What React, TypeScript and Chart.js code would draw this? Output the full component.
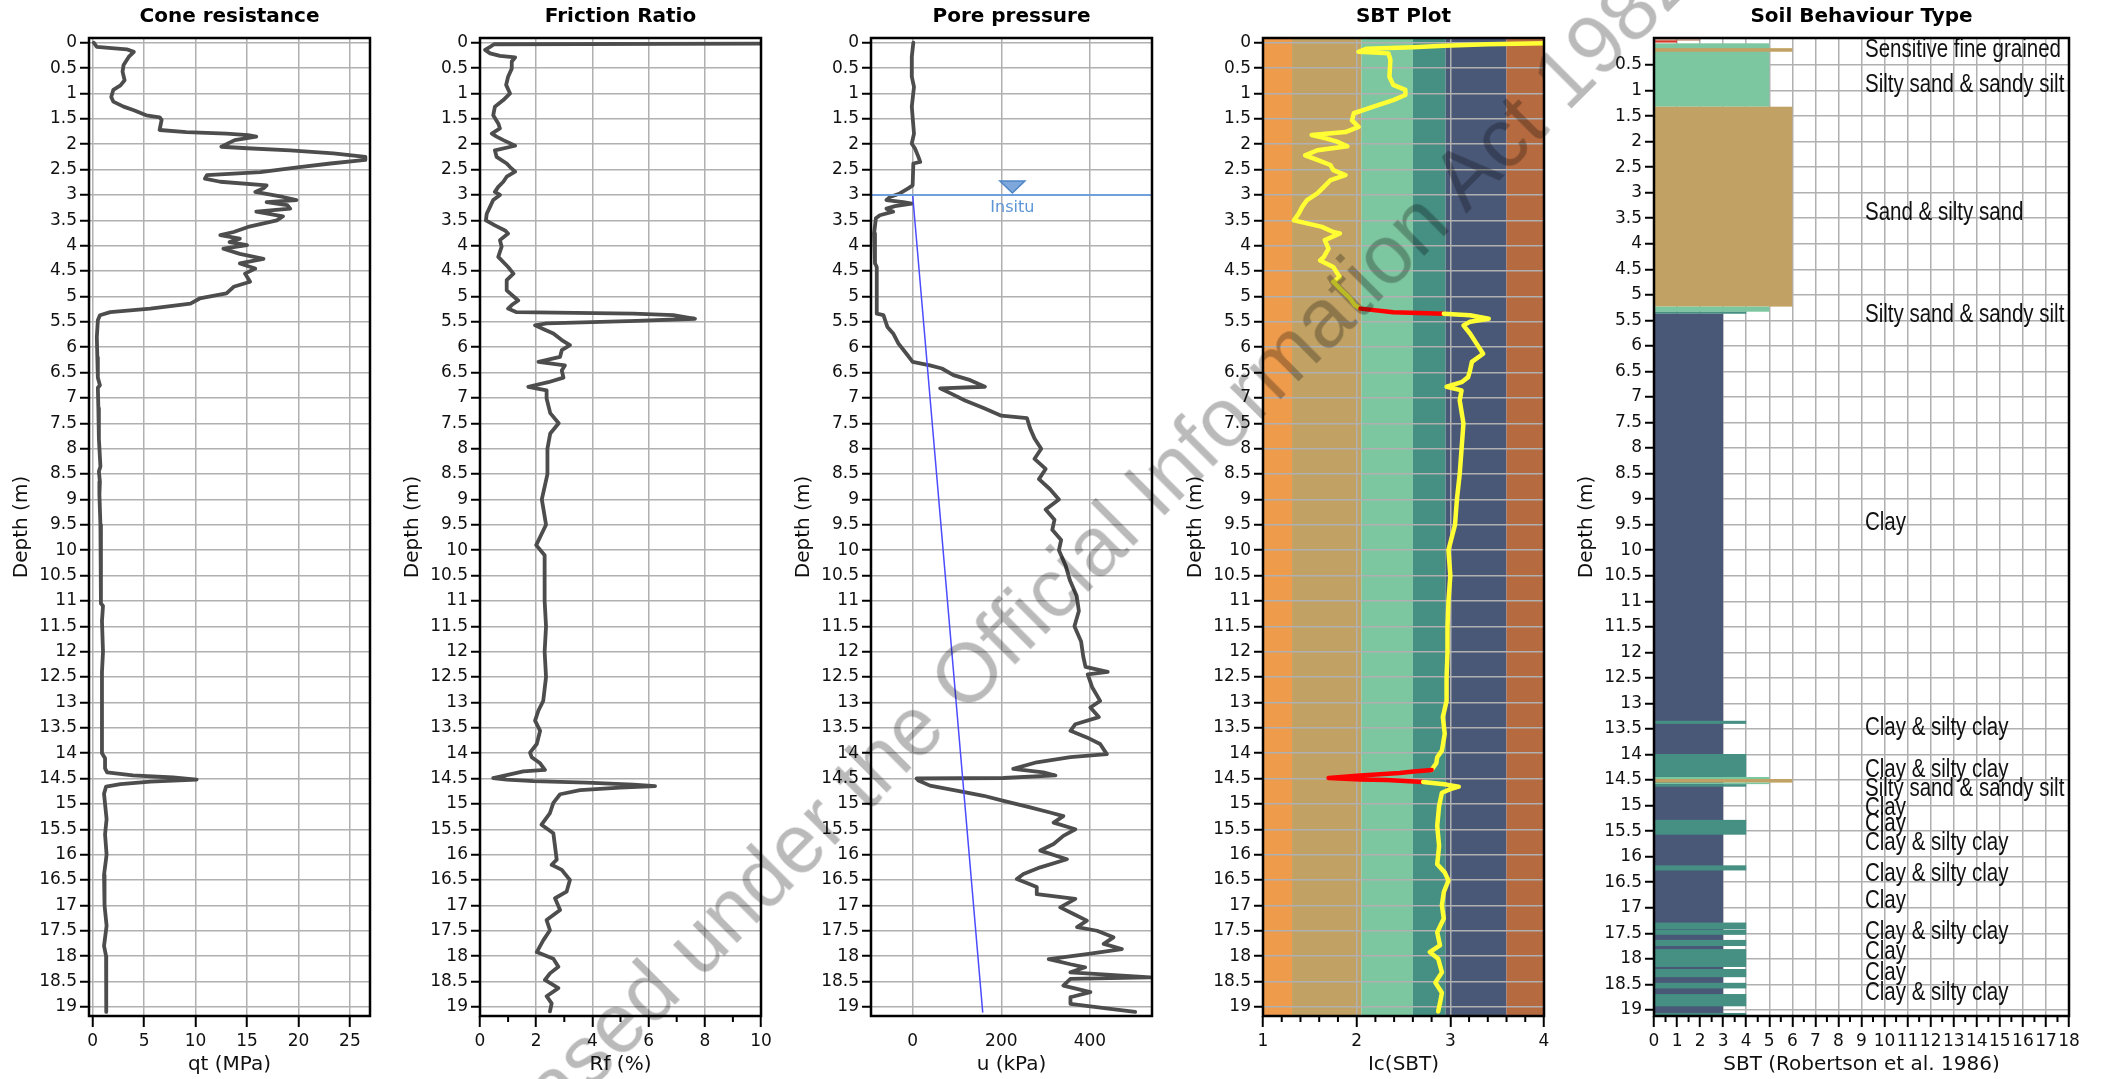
import React, { useEffect, useRef } from 'react';
import { Chart, registerables } from 'chart.js';

Chart.register(...registerables);

const FONT = '"DejaVu Sans", Verdana, sans-serif';
const GRID = '#b0b0b0';
const LINE = '#4d4d4d';

// ---------- tick labels ----------
const depthTicks = [0, 0.5, 1, 1.5, 2, 2.5, 3, 3.5, 4, 4.5, 5, 5.5, 6, 6.5, 7, 7.5, 8, 8.5, 9, 9.5, 10, 10.5, 11, 11.5, 12, 12.5, 13, 13.5, 14, 14.5, 15, 15.5, 16, 16.5, 17, 17.5, 18, 18.5, 19];
const depthTicksSbt = [0.5, 1, 1.5, 2, 2.5, 3, 3.5, 4, 4.5, 5, 5.5, 6, 6.5, 7, 7.5, 8, 8.5, 9, 9.5, 10, 10.5, 11, 11.5, 12, 12.5, 13, 13.5, 14, 14.5, 15, 15.5, 16, 16.5, 17, 17.5, 18, 18.5, 19];
const qtTicks = [0, 5, 10, 15, 20, 25];
const rfTicks = [0, 2, 4, 6, 8, 10];
const rfMinor = [1, 3, 5, 7, 9];
const uTicks = [0, 200, 400];
const icTicks = [1, 2, 3, 4];
const icMinor = [1.2, 1.4, 1.6, 1.8, 2.2, 2.4, 2.6, 2.8, 3.2, 3.4, 3.6, 3.8];
const sbtTicks = [0, 1, 2, 3, 4, 5, 6, 7, 8, 9, 10, 11, 12, 13, 14, 15, 16, 17, 18];
const sbtMinor = [0.5, 1.5, 2.5, 3.5, 4.5, 5.5, 6.5, 7.5, 8.5, 9.5, 10.5, 11.5, 12.5, 13.5, 14.5, 15.5, 16.5, 17.5];

// ---------- Cone resistance ----------
const qtDepth = [0.00, 0.08, 0.13, 0.18, 0.28, 0.44, 0.57, 0.74, 0.84, 0.93, 1.07, 1.16, 1.26, 1.33, 1.43, 1.47, 1.52, 1.72, 1.76, 1.79, 1.82, 1.85, 1.92, 2.05, 2.08, 2.12, 2.18, 2.25, 2.31, 2.38, 2.45, 2.55, 2.61, 2.68, 2.74, 2.81, 2.87, 2.94, 3.04, 3.10, 3.14, 3.20, 3.27, 3.33, 3.42, 3.50, 3.63, 3.73, 3.79, 3.86, 3.93, 3.99, 4.06, 4.16, 4.26, 4.35, 4.45, 4.55, 4.71, 4.81, 4.94, 5.04, 5.14, 5.24, 5.31, 5.37, 5.47, 5.80, 6.20, 6.60, 6.75, 6.80, 7.20, 7.80, 8.35, 8.45, 8.65, 8.90, 9.50, 10.00, 10.50, 11.05, 11.10, 11.40, 12.00, 12.40, 13.00, 13.50, 14.00, 14.10, 14.30, 14.38, 14.44, 14.48, 14.52, 14.56, 14.61, 14.66, 14.80, 15.30, 15.60, 16.00, 16.40, 17.00, 17.40, 17.80, 18.00, 18.40, 19.00, 19.10];
const qtValue = [0.1, 0.4, 3.3, 4.0, 3.5, 3.0, 2.9, 3.1, 2.7, 2.0, 1.8, 2.0, 3.0, 4.0, 5.2, 6.5, 6.7, 6.5, 9.1, 13.0, 15.1, 15.9, 13.8, 12.5, 15.0, 19.2, 23.4, 26.5, 26.5, 23.1, 20.1, 16.3, 11.1, 10.9, 12.4, 16.9, 16.6, 15.8, 18.5, 19.8, 16.9, 18.9, 19.2, 15.9, 18.5, 17.9, 15.1, 13.7, 12.4, 14.3, 13.3, 15.0, 12.7, 14.3, 16.6, 14.3, 15.8, 14.8, 15.3, 13.7, 13.0, 10.4, 9.5, 5.6, 1.7, 0.7, 0.5, 0.4, 0.45, 0.5, 0.7, 0.5, 0.55, 0.6, 0.75, 0.6, 0.7, 0.65, 0.75, 0.8, 0.8, 0.8, 1.0, 0.9, 1.0, 0.9, 0.9, 0.9, 0.9, 1.2, 1.2, 1.4, 3.9, 7.8, 10.1, 5.6, 2.7, 1.3, 1.1, 1.35, 1.2, 1.35, 1.1, 1.15, 1.35, 1.1, 1.3, 1.3, 1.3, 1.35];

// ---------- Friction ratio ----------
const rfDepth = [0.01, 0.03, 0.08, 0.14, 0.21, 0.26, 0.29, 0.37, 0.51, 0.67, 0.83, 1.00, 1.13, 1.26, 1.43, 1.59, 1.69, 1.79, 1.85, 1.92, 2.03, 2.12, 2.25, 2.38, 2.45, 2.54, 2.64, 2.74, 2.84, 2.94, 3.00, 3.10, 3.23, 3.37, 3.50, 3.60, 3.70, 3.76, 3.89, 4.02, 4.22, 4.42, 4.55, 4.68, 4.88, 5.08, 5.17, 5.24, 5.31, 5.34, 5.37, 5.44, 5.48, 5.53, 5.57, 5.64, 5.73, 5.86, 5.96, 6.06, 6.19, 6.29, 6.36, 6.46, 6.60, 6.69, 6.78, 6.85, 7.01, 7.30, 7.50, 7.70, 8.00, 8.50, 9.00, 9.50, 9.90, 10.10, 10.50, 11.00, 11.50, 12.00, 12.50, 12.97, 13.16, 13.36, 13.56, 13.82, 13.99, 14.08, 14.20, 14.33, 14.36, 14.42, 14.49, 14.52, 14.55, 14.58, 14.62, 14.65, 14.68, 14.73, 14.81, 14.98, 15.18, 15.41, 15.58, 15.84, 16.10, 16.20, 16.30, 16.50, 16.73, 16.86, 17.09, 17.29, 17.49, 17.69, 17.92, 18.05, 18.21, 18.34, 18.47, 18.63, 18.79, 18.93, 19.09];
const rfValue = [14, 0.5, 0.36, 0.18, 0.36, 0.71, 1.25, 1.13, 1.13, 1.0, 0.93, 1.07, 0.83, 0.53, 0.47, 0.65, 0.71, 0.42, 0.59, 0.83, 1.25, 0.53, 0.59, 0.95, 1.07, 1.25, 0.95, 0.83, 0.65, 0.53, 0.71, 0.47, 0.36, 0.24, 0.21, 0.53, 0.89, 1.0, 0.71, 0.77, 0.65, 1.0, 1.19, 0.95, 0.95, 1.36, 1.13, 1.0, 1.30, 5.46, 6.88, 7.65, 5.58, 2.37, 1.96, 2.25, 2.61, 2.91, 3.2, 2.91, 2.85, 2.08, 3.02, 2.91, 2.97, 2.43, 1.72, 2.37, 2.37, 2.5, 2.8, 2.5, 2.4, 2.4, 2.2, 2.35, 2.0, 2.3, 2.3, 2.3, 2.35, 2.3, 2.35, 2.25, 2.08, 1.96, 2.14, 2.02, 1.78, 1.84, 2.14, 2.31, 1.54, 1.07, 0.47, 0.95, 1.9, 3.80, 5.46, 6.23, 4.98, 3.56, 2.85, 2.61, 2.49, 2.19, 2.61, 2.67, 2.73, 2.55, 2.91, 3.2, 3.08, 2.67, 2.85, 2.37, 2.49, 2.25, 2.02, 2.61, 2.79, 2.49, 2.31, 2.79, 2.37, 2.55, 2.49];

// ---------- Pore pressure ----------
const uDepth = [0, 0.28, 0.67, 0.87, 1.26, 1.79, 1.99, 2.08, 2.25, 2.35, 2.38, 2.81, 2.87, 2.97, 3.04, 3.10, 3.14, 3.17, 3.22, 3.27, 3.33, 3.40, 3.46, 3.76, 4.35, 4.42, 5.34, 5.37, 5.60, 5.73, 5.93, 6.13, 6.29, 6.36, 6.42, 6.55, 6.65, 6.78, 6.81, 6.92, 7.05, 7.20, 7.35, 7.40, 7.60, 7.80, 8.00, 8.20, 8.40, 8.60, 8.80, 9.00, 9.20, 9.40, 9.60, 9.80, 10.00, 10.30, 10.60, 10.90, 11.20, 11.50, 11.80, 12.10, 12.30, 12.40, 12.45, 12.70, 12.97, 13.10, 13.29, 13.43, 13.56, 13.69, 13.82, 14.02, 14.08, 14.18, 14.31, 14.38, 14.44, 14.49, 14.50, 14.54, 14.64, 14.74, 14.84, 14.94, 15.07, 15.17, 15.24, 15.37, 15.50, 15.63, 15.79, 15.92, 16.09, 16.25, 16.38, 16.48, 16.64, 16.78, 16.87, 17.04, 17.17, 17.30, 17.43, 17.50, 17.63, 17.76, 17.86, 17.96, 18.06, 18.16, 18.22, 18.32, 18.42, 18.45, 18.58, 18.71, 18.81, 18.94, 19.04, 19.10];
const uValue = [1.5, -2, -2, 3, -2, 3, -2, 5, 13, 17, 1.5, 0, -10, -29, -51, -59, -21, -2, -40, -59, -44, -74, -83, -87, -85, -81, -81, -66, -57, -44, -32, -14, 0, 39, 66, 92, 130, 163, 62, 88, 118, 160, 200, 258, 265, 275, 290, 275, 300, 285, 310, 330, 300, 320, 315, 335, 330, 345, 355, 370, 375, 365, 380, 385, 390, 440, 395, 405, 423, 401, 420, 367, 356, 393, 423, 438, 356, 280, 227, 295, 322, 205, 9, 13, 39, 99, 160, 205, 265, 310, 340, 318, 367, 340, 318, 288, 348, 288, 250, 235, 280, 280, 367, 333, 363, 393, 371, 416, 453, 431, 472, 393, 307, 356, 389, 356, 536, 356, 340, 401, 356, 356, 446, 502];
const hydroDepth = [3.0, 19.1];
const hydroValue = [0, 158];
const waterTableDepth = 3.0;
const insituMarkerU = 225;

// ---------- Ic (SBT) ----------
const icDepth = [0.01, 0.03, 0.06, 0.09, 0.12, 0.18, 0.21, 0.34, 0.67, 0.83, 0.93, 1.03, 1.13, 1.26, 1.39, 1.53, 1.66, 1.76, 1.82, 1.89, 1.95, 2.04, 2.12, 2.22, 2.31, 2.41, 2.51, 2.61, 2.71, 2.84, 2.97, 3.10, 3.23, 3.37, 3.50, 3.56, 3.63, 3.73, 3.76, 3.89, 4.06, 4.22, 4.29, 4.42, 4.62, 4.71, 4.88, 5.04, 5.17, 5.24, 5.31, 5.34, 5.37, 5.44, 5.50, 5.57, 5.73, 5.93, 6.13, 6.29, 6.46, 6.59, 6.69, 6.78, 6.85, 7.05, 7.50, 8.00, 8.50, 9.00, 9.50, 10.00, 10.50, 11.00, 11.50, 12.00, 12.50, 12.97, 13.29, 13.62, 13.95, 14.08, 14.20, 14.33, 14.36, 14.39, 14.44, 14.49, 14.52, 14.53, 14.57, 14.62, 14.66, 14.71, 14.78, 15.04, 15.43, 15.83, 16.19, 16.35, 16.51, 16.74, 17.00, 17.26, 17.53, 17.79, 17.92, 18.05, 18.32, 18.52, 18.72, 18.92, 19.09];
const icValue = [4.1, 3.4, 2.93, 2.6, 2.1, 2.02, 2.34, 2.36, 2.35, 2.39, 2.52, 2.52, 2.39, 2.18, 1.97, 1.95, 2.02, 1.88, 1.52, 1.68, 1.79, 1.90, 1.58, 1.45, 1.58, 1.72, 1.75, 1.88, 1.72, 1.65, 1.58, 1.47, 1.42, 1.38, 1.33, 1.47, 1.63, 1.75, 1.82, 1.66, 1.70, 1.65, 1.61, 1.75, 1.82, 1.75, 1.84, 1.93, 1.98, 2.04, 2.39, 2.93, 3.21, 3.41, 3.21, 3.14, 3.21, 3.28, 3.35, 3.23, 3.21, 3.19, 3.12, 2.96, 3.12, 3.10, 3.14, 3.12, 3.10, 3.07, 3.05, 2.98, 3.0, 2.98, 2.97, 2.97, 2.96, 2.96, 2.92, 2.94, 2.91, 2.86, 2.85, 2.80, 2.61, 2.46, 2.04, 1.70, 2.04, 2.32, 2.71, 2.96, 3.09, 3.0, 2.91, 2.88, 2.86, 2.88, 2.86, 2.94, 2.98, 2.93, 2.91, 2.93, 2.86, 2.89, 2.78, 2.87, 2.91, 2.84, 2.91, 2.89, 2.87];
const icRedFrom = [5.24, 14.33];
const icRedTo = [5.34, 14.57];
const icBandEdges = [1, 1.31, 2.05, 2.6, 2.95, 3.6, 4];
const icBandColors = ['#EF9B4C', '#C1A264', '#7CC6A0', '#458F83', '#4A5878', '#B66A40'];

// ---------- Soil Behaviour Type ----------
const sbtTop = [0.00, 0.02, 0.075, 0.17, 1.316, 5.23, 5.33, 5.37, 13.34, 13.99, 14.44, 14.48, 14.55, 14.58, 15.28, 16.17, 17.29, 17.43, 17.63, 17.81, 18.20, 18.47, 18.69, 19.06];
const sbtBottom = [0.02, 0.06, 1.316, 0.24, 5.23, 5.33, 5.37, 19.12, 13.40, 14.44, 14.48, 14.55, 14.58, 14.63, 15.57, 16.27, 17.42, 17.53, 17.75, 18.16, 18.36, 18.58, 18.93, 19.12];
const sbtZone = [2, 1, 5, 6, 6, 5, 4, 3, 4, 4, 5, 6, 5, 4, 4, 4, 4, 4, 4, 4, 4, 4, 4, 4];
const zoneColors: Record<number, string> = { 1: '#D8342A', 2: '#B66A40', 3: '#4A5878', 4: '#458F83', 5: '#7CC6A0', 6: '#C1A264' };
const sbtLabelText = ['Sensitive fine grained', 'Silty sand & sandy silt', 'Sand & silty sand', 'Silty sand & sandy silt', 'Clay', 'Clay & silty clay', 'Clay & silty clay', 'Silty sand & sandy silt', 'Clay', 'Clay', 'Clay & silty clay', 'Clay & silty clay', 'Clay', 'Clay & silty clay', 'Clay', 'Clay', 'Clay & silty clay'];
const sbtLabelDepth = [0.21, 0.89, 3.40, 5.39, 9.47, 13.49, 14.30, 14.68, 15.05, 15.36, 15.74, 16.34, 16.88, 17.47, 17.86, 18.28, 18.67];
const sbtLabelX = 9.15;

// ---------- helpers ----------
const pts = (ys: number[], xs: number[]) => ys.map((d, i) => ({ x: xs[i], y: d }));

function yScale(min: number, max: number, ticks: number[]) {
  return {
    type: 'linear', reverse: true, min, max,
    afterBuildTicks: (s: any) => { s.ticks = ticks.map((v) => ({ value: v })); },
    afterFit: (s: any) => { s.width = 89; },
    ticks: { autoSkip: false, padding: 3, color: '#111', font: { family: FONT, size: 17 }, callback: (v: any) => String(v) },
    grid: { color: GRID, lineWidth: 1.5, tickLength: 9, tickColor: '#000', tickWidth: 2 },
    border: { display: false },
    title: { display: true, text: 'Depth (m)', color: '#111', font: { family: FONT, size: 20 }, padding: { top: 10, bottom: 0 } },
  };
}

function xScale(min: number, max: number, ticks: number[], title: string, tickColor = '#000') {
  return {
    type: 'linear', position: 'bottom', min, max,
    afterBuildTicks: (s: any) => { s.ticks = ticks.map((v) => ({ value: v })); },
    afterFit: (s: any) => { s.height = 63; },
    ticks: { autoSkip: false, maxRotation: 0, minRotation: 0, padding: 4, color: '#111', font: { family: FONT, size: 17 }, callback: (v: any) => String(v) },
    grid: { color: GRID, lineWidth: 1.5, tickLength: 11, tickColor, tickWidth: 2 },
    border: { display: false },
    title: { display: true, text: title, color: '#111', font: { family: FONT, size: 20 }, padding: { top: 0, bottom: 2 } },
  };
}

const framePlugin = {
  id: 'frame',
  afterDraw(chart: any) {
    const { ctx, chartArea: { left, top, right, bottom } } = chart;
    ctx.save();
    ctx.strokeStyle = '#000';
    ctx.lineWidth = 2.5;
    ctx.strokeRect(left, top, right - left, bottom - top);
    ctx.restore();
  },
};

const titlePlugin = (text: string) => ({
  id: 'panelTitle',
  afterDraw(chart: any) {
    const { ctx, chartArea: { left, right } } = chart;
    ctx.save();
    ctx.font = `bold 20px ${FONT}`;
    ctx.fillStyle = '#000';
    ctx.textAlign = 'center';
    ctx.textBaseline = 'middle';
    ctx.fillText(text, (left + right) / 2, 17);
    ctx.restore();
  },
});

const minorTicksPlugin = (values: number[], len: number) => ({
  id: 'minorTicks',
  afterDraw(chart: any) {
    const { ctx, chartArea: { bottom }, scales: { x } } = chart;
    ctx.save();
    ctx.strokeStyle = '#000';
    ctx.lineWidth = 2;
    ctx.beginPath();
    values.forEach((v) => {
      const px = x.getPixelForValue(v);
      ctx.moveTo(px, bottom);
      ctx.lineTo(px, bottom + len);
    });
    ctx.stroke();
    ctx.restore();
  },
});

const icBandsPlugin = {
  id: 'icBands',
  beforeDraw(chart: any) {
    const { ctx, chartArea: { top, bottom }, scales: { x } } = chart;
    ctx.save();
    for (let i = 0; i < icBandColors.length; i++) {
      const x0 = x.getPixelForValue(icBandEdges[i]);
      const x1 = x.getPixelForValue(icBandEdges[i + 1]);
      ctx.fillStyle = icBandColors[i];
      ctx.fillRect(x0, top, x1 - x0, bottom - top);
    }
    ctx.restore();
  },
};

const waterTablePlugin = {
  id: 'waterTable',
  afterDatasetsDraw(chart: any) {
    const { ctx, chartArea: { left, right }, scales: { x, y } } = chart;
    const py = y.getPixelForValue(waterTableDepth);
    const px = x.getPixelForValue(insituMarkerU);
    ctx.save();
    ctx.strokeStyle = '#6FA0DC';
    ctx.lineWidth = 2;
    ctx.beginPath();
    ctx.moveTo(left, py);
    ctx.lineTo(right, py);
    ctx.stroke();
    ctx.beginPath();
    ctx.moveTo(px - 12.5, py - 14);
    ctx.lineTo(px + 12.5, py - 14);
    ctx.lineTo(px, py - 2);
    ctx.closePath();
    ctx.fillStyle = '#7EA8DC';
    ctx.fill();
    ctx.strokeStyle = '#4F86C6';
    ctx.lineWidth = 1.5;
    ctx.stroke();
    ctx.font = `16px ${FONT}`;
    ctx.fillStyle = '#5B95D5';
    ctx.textAlign = 'center';
    ctx.textBaseline = 'middle';
    ctx.fillText('Insitu', px, py + 13);
    ctx.restore();
  },
};

const sbtLayersPlugin = {
  id: 'sbtLayers',
  beforeDatasetsDraw(chart: any) {
    const { ctx, scales: { x, y } } = chart;
    ctx.save();
    const x0 = x.getPixelForValue(0);
    for (let i = 0; i < sbtZone.length; i++) {
      const y0 = y.getPixelForValue(sbtTop[i]);
      const y1 = y.getPixelForValue(sbtBottom[i]);
      const x1 = x.getPixelForValue(sbtZone[i]);
      ctx.fillStyle = zoneColors[sbtZone[i]];
      ctx.fillRect(x0, y0, x1 - x0, y1 - y0);
    }
    ctx.restore();
  },
  afterDatasetsDraw(chart: any) {
    const { ctx, scales: { x, y } } = chart;
    ctx.save();
    ctx.font = '25px "Liberation Sans", Arial, sans-serif';
    ctx.fillStyle = '#111';
    ctx.textAlign = 'left';
    ctx.textBaseline = 'middle';
    const px = x.getPixelForValue(sbtLabelX);
    sbtLabelText.forEach((t, i) => {
      const py = y.getPixelForValue(sbtLabelDepth[i]);
      ctx.save();
      ctx.translate(px, py);
      ctx.scale(0.82, 1);
      ctx.fillText(t, 0, 0);
      ctx.restore();
    });
    ctx.restore();
  },
};

const inRed = (d: number) => icRedFrom.some((f, i) => d >= f - 1e-6 && d <= icRedTo[i] + 1e-6);

const lineDs = (data: any[], color = LINE, width = 3.8) => ({
  data, showLine: true, pointRadius: 0, pointHoverRadius: 0, borderColor: color, backgroundColor: color, borderWidth: width, fill: false, tension: 0,
  borderJoinStyle: 'round', borderCapStyle: 'round',
});

const baseOptions = (x: any, y: any, rightPad: number) => ({
  responsive: false,
  animation: false,
  events: [],
  layout: { padding: { top: 38, right: rightPad, left: 0, bottom: 0 } },
  plugins: { legend: { display: false }, tooltip: { enabled: false }, title: { display: false } },
  scales: { x, y },
});

const Y_MIN = -0.093;
const Y_MAX = 19.18;

function buildConfigs() {
  return [
    {
      left: 0, width: 385,
      config: {
        type: 'scatter',
        data: { datasets: [lineDs(pts(qtDepth, qtValue))] },
        options: baseOptions(xScale(-0.36, 26.95, qtTicks, 'qt (MPa)'), yScale(Y_MIN, Y_MAX, depthTicks), 15),
        plugins: [framePlugin, titlePlugin('Cone resistance')],
      },
    },
    {
      left: 391, width: 385,
      config: {
        type: 'scatter',
        data: { datasets: [lineDs(pts(rfDepth, rfValue))] },
        options: baseOptions(xScale(0, 10, rfTicks, 'Rf (%)'), yScale(Y_MIN, Y_MAX, depthTicks), 15),
        plugins: [framePlugin, titlePlugin('Friction Ratio'), minorTicksPlugin(rfMinor, 6)],
      },
    },
    {
      left: 782, width: 385,
      config: {
        type: 'scatter',
        data: { datasets: [lineDs(pts(hydroDepth, hydroValue), '#4B4BFF', 1.5), lineDs(pts(uDepth, uValue))] },
        options: baseOptions(xScale(-94, 540, uTicks, 'u (kPa)', 'rgba(0,0,0,0)'), yScale(Y_MIN, Y_MAX, depthTicks), 15),
        plugins: [framePlugin, titlePlugin('Pore pressure'), waterTablePlugin],
      },
    },
    {
      left: 1174, width: 385,
      config: {
        type: 'scatter',
        data: {
          datasets: [{
            ...lineDs(pts(icDepth, icValue), '#FFFF33', 4.5),
            segment: {
              borderColor: (c: any) => (inRed(c.p0.parsed.y) && inRed(c.p1.parsed.y) ? '#FF0000' : '#FFFF33'),
            },
          }],
        },
        options: baseOptions(xScale(1, 4, icTicks, 'Ic(SBT)'), yScale(Y_MIN, Y_MAX, depthTicks), 15),
        plugins: [icBandsPlugin, framePlugin, titlePlugin('SBT Plot'), minorTicksPlugin(icMinor, 6)],
      },
    },
    {
      left: 1565, width: 540,
      config: {
        type: 'scatter',
        data: { datasets: [lineDs([])] },
        options: baseOptions(xScale(0, 18, sbtTicks, 'SBT (Robertson et al. 1986)'), yScale(-0.029, 19.12, depthTicksSbt), 36),
        plugins: [sbtLayersPlugin, framePlugin, titlePlugin('Soil Behaviour Type'), minorTicksPlugin(sbtMinor, 6)],
      },
    },
  ];
}

function Panel({ left, width, config }: { left: number; width: number; config: any }) {
  const ref = useRef<HTMLCanvasElement | null>(null);
  useEffect(() => {
    if (!ref.current) return;
    const chart = new Chart(ref.current, config);
    return () => chart.destroy();
  }, []);
  return (
    <canvas
      ref={ref}
      width={width}
      height={1079}
      style={{ position: 'absolute', left, top: 0, width, height: 1079 }}
    />
  );
}

export default function App() {
  const panels = buildConfigs();
  return (
    <div style={{ position: 'fixed', left: 0, top: 0, width: 2105, height: 1079, overflow: 'hidden', background: '#fff' }}>
      {panels.map((p, i) => (
        <Panel key={i} left={p.left} width={p.width} config={p.config} />
      ))}
      <div
        style={{
          position: 'absolute',
          left: 436,
          top: 1174,
          fontFamily: '"Liberation Sans", Arial, sans-serif',
          fontSize: 83,
          lineHeight: '83px',
          color: 'rgba(0,0,0,0.27)',
          whiteSpace: 'nowrap',
          transform: 'rotate(-45deg)',
          transformOrigin: '0px 70px',
          pointerEvents: 'none',
        }}
      >
        Released under the Official Information Act 1982
      </div>
    </div>
  );
}
